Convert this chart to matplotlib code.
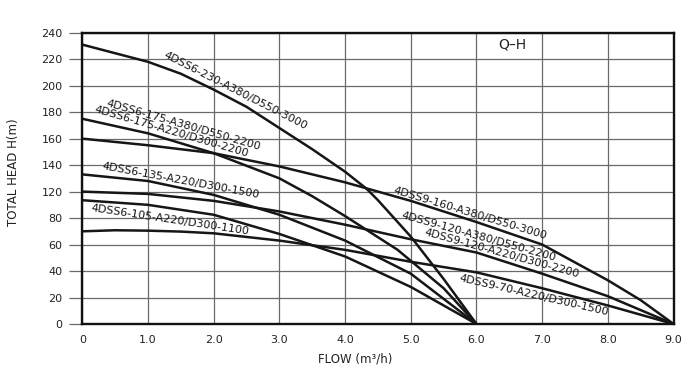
import numpy as np
import matplotlib
matplotlib.use("Agg")
import matplotlib.pyplot as plt

# ---------------- data ----------------
flow_6_230 = [0, 1.0, 1.5, 2.0, 2.5, 3.0, 3.5, 4.0, 4.33, 4.5, 5.0, 5.5, 6.0]
head_6_230 = [231, 218, 209, 197, 184, 168, 152, 135, 122, 107, 66, 34, 0]

flow_6_175 = [0, 1.0, 2.0, 3.0, 3.5, 4.0, 4.8, 5.5, 6.0]
head_6_175 = [175, 164, 149, 130, 113, 83, 56, 27, 0]

flow_9_160 = [0, 1, 2, 3, 4, 5, 6, 7, 8, 8.5, 9]
head_9_160 = [160, 155, 149, 139, 127, 106, 77, 60, 33, 18, 0]

flow_6_135 = [0, 1, 2, 3, 4, 5, 6]
head_6_135 = [133, 128, 115, 85, 63, 38, 0]

flow_9_120 = [0, 1, 2, 3, 4, 5, 6, 7, 8, 9]
head_9_120 = [120, 116.5, 106, 90, 75, 64, 54, 38, 21, 0]

flow_6_105 = [0, 1, 2, 3, 4, 5, 6]
head_6_105 = [107, 100, 85, 68, 51, 28, 0]

flow_9_70 = [0, 0.5, 1, 1.5, 2, 3, 4, 5, 6, 7, 8, 9]
head_9_70 = [70, 70.8, 70.5, 69.8, 68.5, 63, 56, 47, 39, 27, 14, 0]

curves = [
    (flow_6_230, head_6_230),
    (flow_6_175, head_6_175),
    (flow_9_160, head_9_160),
    (flow_6_135, head_6_135),
    (flow_9_120, head_9_120),
    (flow_6_105, head_6_105),
    (flow_9_70, head_9_70),
]

curve_labels = [
    "4DSS6-230-A380/D550-3000",
    "4DSS6-175-A380/D550-2200",
    "4DSS6-175-A220/D300-2200",
    "4DSS6-135-A220/D300-1500",
    "4DSS6-105-A220/D300-1100",
    "4DSS9-160-A380/D550-3000",
    "4DSS9-120-A380/D550-2200",
    "4DSS9-120-A220/D300-2200",
    "4DSS9-70-A220/D300-1500",
]
# label placement (axes fraction) and rotation
label_pos = [
    (0.2597, 0.8020, -27),
    (0.1708, 0.6831, -16),
    (0.1512, 0.6591, -16.3),
    (0.1666, 0.4916, -10.5),
    (0.1483, 0.3570, -8.5),
    (0.6557, 0.3800, -16.8),
    (0.6709, 0.3009, -15.6),
    (0.7093, 0.2426, -15.4),
    (0.7640, 0.0975, -13),
]

y_ticks = [0, 20, 40, 60, 80, 120, 140, 160, 180, 200, 220, 240]
y_ticklabels = ["0", "20", "40", "60", "80", "120", "140", "160", "180", "200", "220", "240"]
x_ticks = [0, 1, 2, 3, 4, 5, 6, 7, 8, 9]
x_ticklabels = ["0", "1.0", "2.0", "3.0", "4.0", "5.0", "6.0", "7.0", "8.0", "9.0"]


# the printed head axis compresses 80..120 into one grid step
def fwd(h):
    h = np.asarray(h, dtype=float)
    return np.where(h <= 80, h, np.where(h <= 120, 80 + (h - 80) / 2.0, h - 20))


def inv(g):
    g = np.asarray(g, dtype=float)
    return np.where(g <= 80, g, np.where(g <= 100, 80 + 2.0 * (g - 80), g + 20))


plt.rcParams["font.family"] = ["DejaVu Sans"]

fig = plt.figure(figsize=(6.86, 3.82), dpi=100)
ax = fig.add_axes([0.1200, 0.1518, 0.8619, 0.7626])
ax.set_yscale("function", functions=(fwd, inv))
ax.set_xlim(0, 9)
ax.set_ylim(0, 240)

ax.set_yticks(y_ticks)
ax.set_yticklabels(y_ticklabels)
ax.set_xticks(x_ticks)
ax.set_xticklabels(x_ticklabels)
ax.minorticks_off()

ax.grid(True, color="#6a6a6a", linewidth=0.9)
ax.set_axisbelow(True)
ax.tick_params(axis="y", length=9.5, width=0.9, color="#6a6a6a", pad=4.8,
               labelsize=8, labelcolor="#222222")
ax.tick_params(axis="x", length=0, pad=8, labelsize=8, labelcolor="#222222")

for sp in ax.spines.values():
    sp.set_linewidth(1.7)
    sp.set_color("#111111")

for fx, hy in curves:
    ax.plot(fx, hy, color="#161616", linewidth=1.8, solid_joinstyle="round")

for txt, (lx, ly, rot) in zip(curve_labels, label_pos):
    ax.text(lx, ly, txt, transform=ax.transAxes, rotation=rot,
            rotation_mode="anchor", ha="center", va="center",
            fontsize=8, color="#161616")

ax.text(0.7267, 0.958, "Q–H", transform=ax.transAxes, ha="center", va="center",
        fontsize=10, color="#222222")

ax.set_ylabel("TOTAL HEAD H(m)", fontsize=8.5, color="#222222")
ax.yaxis.set_label_coords(-0.1054, 0.522)
ax.set_xlabel("FLOW (m³/h)", fontsize=8.5, color="#222222")
ax.xaxis.set_label_coords(0.461, -0.120)
ax.xaxis.label.set_va("center")

fig.savefig("out.png", dpi=100)
